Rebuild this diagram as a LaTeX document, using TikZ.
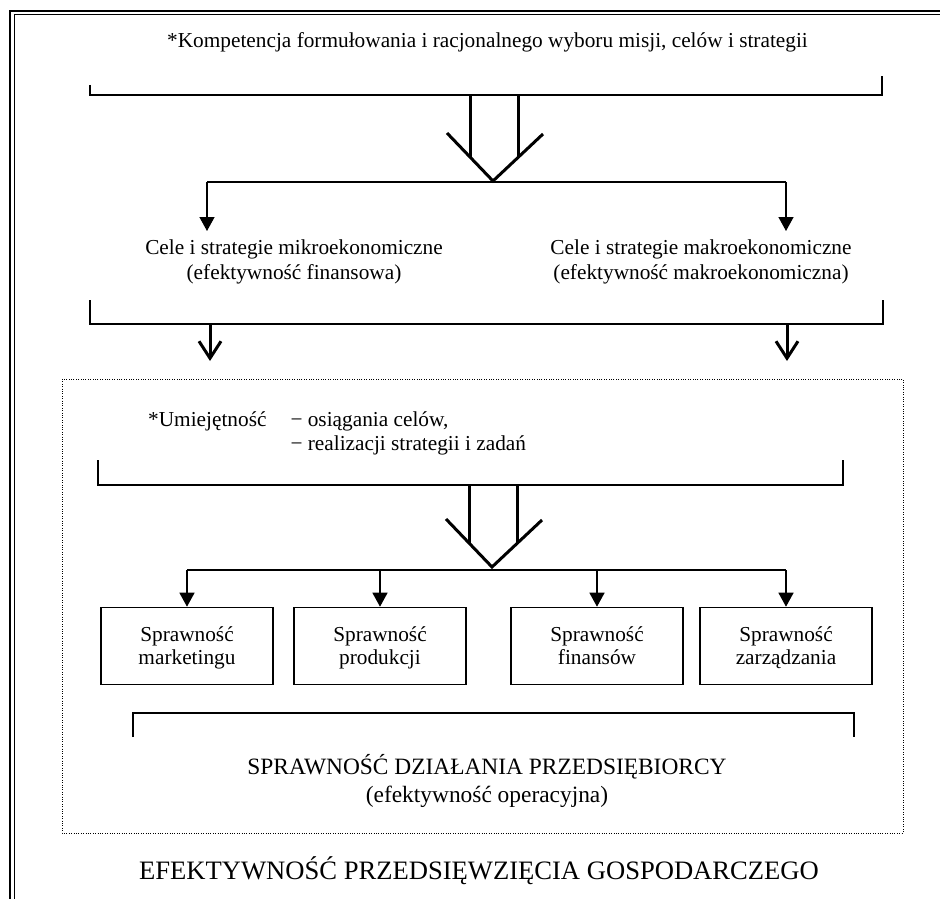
\documentclass[tikz,border=0pt]{standalone}
\usepackage{fontspec}
\setmainfont{Liberation Serif}
\usetikzlibrary{arrows.meta,positioning}

\tikzset{
  txt/.style={font=\fontsize{21.3}{24.5}\selectfont, inner sep=0pt, align=center},
  bline/.style={line width=1.4pt},
  fat/.style={line width=3pt},
  farr/.style={bline, -{Triangle[width=15pt,length=14pt]}},
  oarr/.style={line width=3pt, -{Straight Barb[length=17pt,width=22pt]}},
  sbox/.style={draw, line width=1.6pt, minimum width=172pt, minimum height=77pt,
    inner sep=0pt, text depth=1pt, align=center, font=\fontsize{21.3}{23}\selectfont}
}

% hollow double arrow: centre x, top y, tip y
\newcommand{\dblarrow}[3]{%
  \draw[fat] (#1-23,#2) -- (#1-23,#3-24);
  \draw[fat] (#1+25,#2) -- (#1+25,#3-24);
  \draw[fat] (#1-46,#3-48) -- (#1,#3) -- (#1+50,#3-47);
}

\begin{document}
\begin{tikzpicture}[x=1pt,y=-1pt]
\useasboundingbox (0,0) rectangle (940,899);
\fill[white] (0,0) rectangle (940,899);

% frame
\draw[line width=2pt] (10,899) -- (10,11) -- (940,11);
\draw[line width=1pt] (14,899) -- (14,15) -- (940,15);

% upper part
\node[txt, anchor=base] (komp) at (487.5,48)
  {*Kompetencja formułowania i racjonalnego wyboru misji, celów i strategii};
\draw[bline] (90,85) -- (90,95) -- (882,95) -- (882,76);
\dblarrow{493}{95}{181}

\coordinate (d1) at (207,182);
\coordinate (d2) at (786,182);
\coordinate (t1) at (207,231);
\coordinate (t2) at (786,231);
\draw[bline] (d1) -- (d2);
\draw[farr] (d1) -- (t1);
\draw[farr] (d2) -- (t2);

\node[txt] (celmi) at (294,262)
  {Cele i strategie mikroekonomiczne\\(efektywność finansowa)};
\node[txt] (celma) at (701,262)
  {Cele i strategie makroekonomiczne\\(efektywność makroekonomiczna)};

\draw[bline] (90,300) -- (90,324) -- (883,324) -- (883,300);
\coordinate (o1) at (210,324);
\coordinate (o2) at (787,324);
\coordinate (p1) at (210,361);
\coordinate (p2) at (787,361);
\draw[oarr] (o1) -- (p1);
\draw[oarr] (o2) -- (p2);

% operational part
\draw[line width=1pt, dash pattern=on 1pt off 1.4pt] (62,379) rectangle (903,833);

\node[font=\fontsize{21.3}{24}\selectfont, inner sep=0pt, anchor=base west] (umiej) at (148,426)
  {\begin{tabular}[t]{@{}l@{\hspace{24pt}}l@{}}
   *Umiejętność & − osiągania celów,\\
                & − realizacji strategii i zadań
   \end{tabular}};
\draw[bline] (98,460) -- (98,485) -- (843,485) -- (843,460);
\dblarrow{492}{485}{567}

\node[sbox] (s1) at (187,646) {Sprawność\\marketingu};
\node[sbox] (s2) at (380,646) {Sprawność\\produkcji};
\node[sbox] (s3) at (597,646) {Sprawność\\finansów};
\node[sbox] (s4) at (786,646) {Sprawność\\zarządzania};

\foreach \i in {1,...,4} \coordinate (j\i) at (s\i.north |- 0,570);
\draw[bline] (j1) -- (j4);
\foreach \i in {1,...,4} \draw[farr] (j\i) -- (s\i.north);

\draw[bline] (133,737) -- (133,713) -- (854,713) -- (854,737);
\node[txt, font=\fontsize{23.4}{28}\selectfont] (spraw) at (487,780.5)
  {SPRAWNOŚĆ DZIAŁANIA PRZEDSIĘBIORCY\\(efektywność operacyjna)};

\node[txt, font=\fontsize{26.6}{30}\selectfont, anchor=base] (efekt) at (479,879)
  {EFEKTYWNOŚĆ PRZEDSIĘWZIĘCIA GOSPODARCZEGO};
\end{tikzpicture}
\end{document}
